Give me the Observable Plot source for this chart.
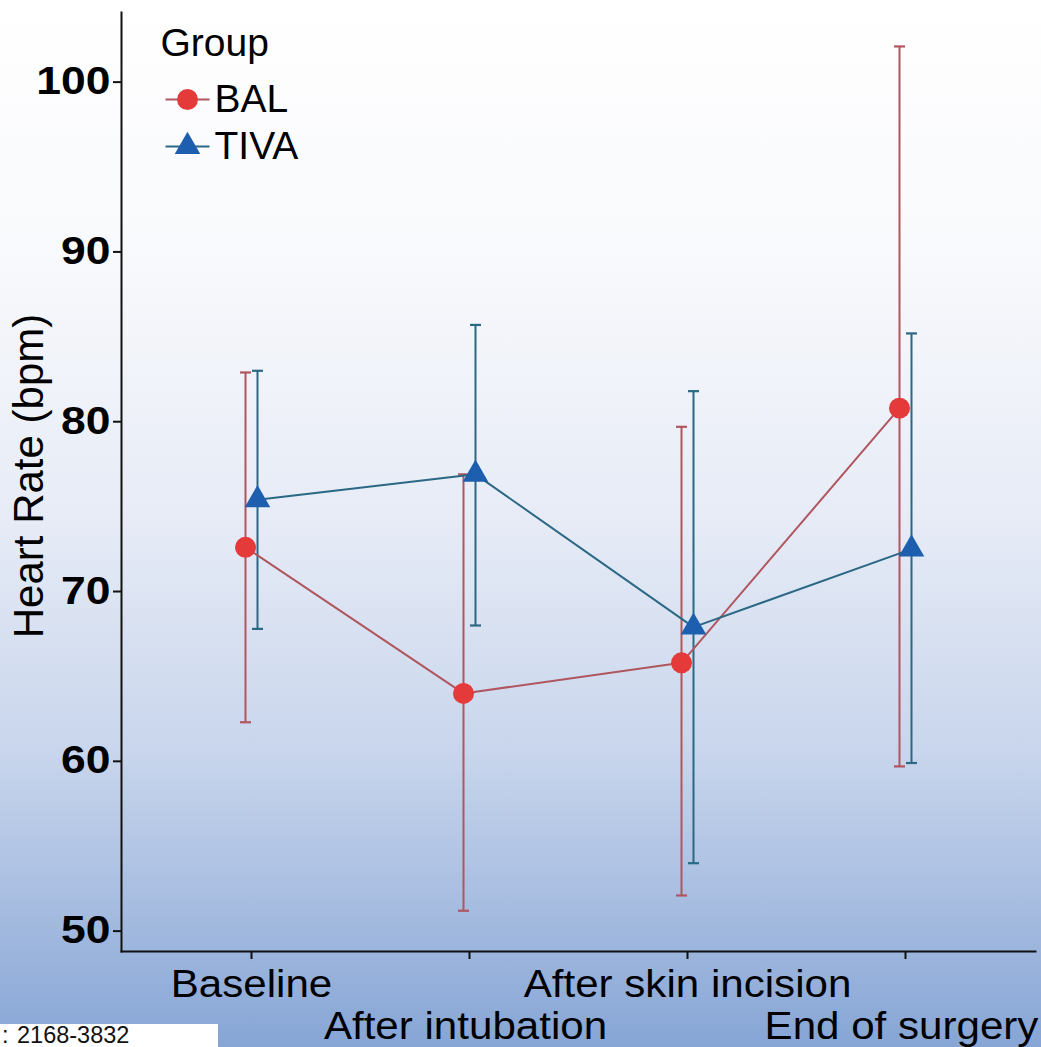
<!DOCTYPE html>
<html>
<head>
<meta charset="utf-8">
<script src="https://cdn.jsdelivr.net/npm/d3@7"></script>
<script src="https://cdn.jsdelivr.net/npm/@observablehq/plot@0.6"></script>
<style>
  html, body { margin: 0; padding: 0; }
  #wrap {
    position: relative; width: 1041px; height: 1047px; overflow: hidden;
    background: linear-gradient(to bottom, #ffffff 0%, #f8f9fc 25%, #e6ebf6 50%, #c8d5ec 72%, #a3badf 88%, #86a5d5 100%);
    font-family: "Liberation Sans", Arial, sans-serif;
  }
  #chart svg { display: block; }
  #src {
    position: absolute; left: 0; top: 1024px; width: 218px; height: 23px;
    background: #ffffff; white-space: nowrap;
    font-size: 23.5px; line-height: 22px; color: #111;
  }
  #src .c { position: absolute; left: 2px; top: 0px; }
  #src .n { position: absolute; left: 17px; top: 0px; }
</style>
</head>
<body>
<div id="wrap">
  <div id="chart"></div>
  <div id="src"><span class="c">:</span><span class="n">2168-3832</span></div>
</div>
<script>
// ---- data ----
const timepoints = ["Baseline", "After intubation", "After skin incision", "End of surgery"];
const groups = ["BAL", "TIVA"];
const balMean  = [72.6, 64.0, 65.8, 80.8];
const balLower = [62.3, 51.2, 52.1, 59.7];
const balUpper = [82.9, 76.9, 79.7, 102.1];
const tivaMean  = [75.4, 76.9, 67.9, 72.5];
const tivaLower = [67.8, 68.0, 54.0, 59.9];
const tivaUpper = [83.0, 85.7, 81.8, 85.2];
const yTicks = [50, 60, 70, 80, 90, 100];
const yLabel = "Heart Rate (bpm)";
const legendTitle = "Group";

// ---- styling ----
const lineColor = {BAL: "#b0565f", TIVA: "#2b6884"};
const markColor = {BAL: "#e53a3a", TIVA: "#1d5fae"};
const markSymbol = {BAL: "circle", TIVA: "triangle"};
const markR = {BAL: 10.5, TIVA: 9.5};
const offset = {BAL: -6, TIVA: 6};
const FONT = "'Liberation Sans', Arial, sans-serif";

const rows = {
  BAL: timepoints.map((t, i) => ({time: t, group: "BAL", mean: balMean[i], lo: balLower[i], hi: balUpper[i]})),
  TIVA: timepoints.map((t, i) => ({time: t, group: "TIVA", mean: tivaMean[i], lo: tivaLower[i], hi: tivaUpper[i]}))
};

// horizontal dash symbol (for error-bar caps and legend lines)
const dash = {draw(ctx, size) { const w = Math.sqrt(size / Math.PI); ctx.moveTo(-w, 0); ctx.lineTo(w, 0); }};

const seriesMarks = [];
for (const g of groups) {
  const d = rows[g], dx = offset[g], c = lineColor[g];
  seriesMarks.push(
    Plot.ruleX(d, {x: "time", y1: "lo", y2: "hi", stroke: c, strokeWidth: 2, dx}),
    Plot.dot(d, {x: "time", y: "lo", symbol: dash, r: 5.5, stroke: c, strokeWidth: 2.2, fill: "none", dx}),
    Plot.dot(d, {x: "time", y: "hi", symbol: dash, r: 5.5, stroke: c, strokeWidth: 2.2, fill: "none", dx})
  );
}
for (const g of groups) {
  seriesMarks.push(Plot.line(rows[g], {x: "time", y: "mean", stroke: lineColor[g], strokeWidth: 2, dx: offset[g]}));
}
for (const g of groups) {
  seriesMarks.push(Plot.dot(rows[g], {x: "time", y: "mean", symbol: markSymbol[g], r: markR[g], fill: markColor[g], stroke: "none", dx: offset[g]}));
}

// legend drawn inside the frame (top-left anchored)
const legendRows = [{g: "BAL", dy: 87}, {g: "TIVA", dy: 134}];
const legendMarks = [
  Plot.text([legendTitle], {text: d => d, frameAnchor: "top-left", textAnchor: "start", lineAnchor: "middle", dx: 39, dy: 31, fontSize: 39, fill: "#000", ariaLabel: "legend text"})
];
for (const r of legendRows) {
  legendMarks.push(
    Plot.dot([r.g], {frameAnchor: "top-left", dx: 66, dy: r.dy, symbol: dash, r: 22, stroke: lineColor[r.g], strokeWidth: 2, fill: "none"}),
    Plot.dot([r.g], {frameAnchor: "top-left", dx: 66, dy: r.dy, symbol: markSymbol[r.g], r: markR[r.g], fill: markColor[r.g], stroke: "none"}),
    Plot.text([r.g], {text: d => d, frameAnchor: "top-left", textAnchor: "start", lineAnchor: "middle", dx: 93, dy: r.dy, fontSize: 39, fill: "#000", ariaLabel: "legend text"})
  );
}

const chart = Plot.plot({
  width: 1041, height: 1047,
  marginLeft: 121, marginRight: 6, marginTop: 12, marginBottom: 96,
  style: {background: "transparent", fontFamily: FONT, color: "#000", overflow: "visible"},
  x: {type: "point", domain: timepoints, padding: 0.596, axis: null},
  y: {domain: [48.8, 104.1], axis: null},
  marks: [
    Plot.frame({anchor: "left", stroke: "#111", strokeWidth: 2}),
    Plot.frame({anchor: "bottom", stroke: "#111", strokeWidth: 2}),
    Plot.axisY({ticks: yTicks, tickSize: 8, tickPadding: 3, fontSize: 38, fontWeight: "bold", label: null, stroke: "#111", strokeWidth: 2}),
    Plot.axisX({ticks: [timepoints[0], timepoints[2]], tickSize: 8, tickPadding: 10, fontSize: 39, label: null, stroke: "#111", strokeWidth: 2}),
    Plot.axisX({ticks: [timepoints[1], timepoints[3]], tickSize: 8, tickPadding: 52, fontSize: 39, label: null, stroke: "#111", strokeWidth: 2}),
    Plot.text([yLabel], {text: d => d, frameAnchor: "left", textAnchor: "middle", lineAnchor: "middle", rotate: -90, dx: -92, dy: -6, fontSize: 42, fill: "#000", ariaLabel: "y label"}),
    ...seriesMarks,
    ...legendMarks
  ]
});
document.getElementById("chart").appendChild(chart);

// widen the glyphs horizontally to match the reference's stretched lettering
function stretch(selector, sx, shift = 0) {
  chart.querySelectorAll(selector).forEach(el => {
    const t = el.getAttribute("transform");
    if (t) {
      el.setAttribute("transform", `translate(${shift},0) ` + t + ` scale(${sx},1)`);
    } else {
      const x = +el.getAttribute("x") || 0;
      el.setAttribute("x", x / sx);
      el.setAttribute("transform", `translate(${shift},0) scale(${sx},1)`);
    }
  });
}
stretch('g[aria-label="y-axis tick label"] text', 1.17);
const xLabelGroups = chart.querySelectorAll('g[aria-label="x-axis tick label"]');
xLabelGroups.forEach((g, i) => {
  g.querySelectorAll("text").forEach(el => {
    const t = el.getAttribute("transform") || "";
    el.setAttribute("transform", `translate(${i === 1 ? -4 : 0},0) ` + t + " scale(1.08,1)");
  });
});
stretch('g[aria-label="legend text"] text', 1.08);
</script>
</body>
</html>
